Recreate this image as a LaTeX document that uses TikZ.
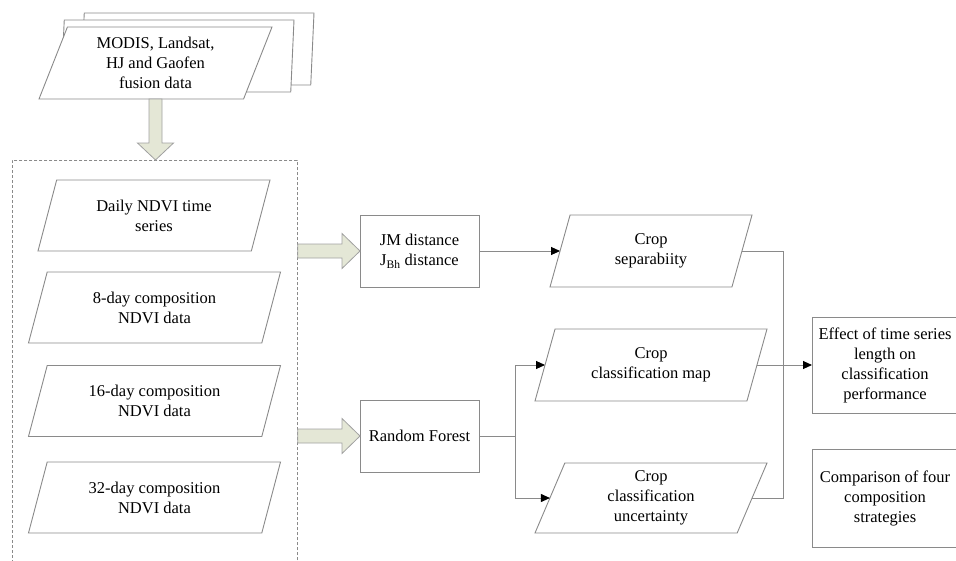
\documentclass[tikz,border=0pt]{standalone}
\usepackage{fontspec}
\setmainfont{Liberation Serif}
\usetikzlibrary{arrows.meta,calc,shapes.geometric}

\definecolor{linegray}{HTML}{8A8A8A}
\definecolor{arrowfill}{HTML}{E4E7D6}

\tikzset{
  txt/.style={align=center, font=\fontsize{16.5}{20}\selectfont},
  databox/.style={txt, trapezium, trapezium left angle=64, trapezium right angle=116,
    trapezium stretches body, minimum width=#1, minimum height=71, outer sep=0pt,
    draw=linegray, line width=0.9pt, fill=white},
  procbox/.style={txt, draw=linegray, line width=0.9pt, minimum width=119, minimum height=72, outer sep=0pt},
  groupbox/.style={draw=linegray, line width=0.8pt, dash pattern=on 3pt off 2pt},
  widearrow/.style={draw=linegray!80, fill=arrowfill, line width=0.8pt},
  link/.style={draw=linegray, line width=0.9pt},
}

% fat arrows: #1 start, #2 tip
\newcommand{\fatright}[2]{\draw[widearrow] ($(#1)+(0,-7)$) -- ($(#2)+(-18,-7)$) -- ($(#2)+(-18,-17.5)$) -- (#2) -- ($(#2)+(-18,17.5)$) -- ($(#2)+(-18,7)$) -- ($(#1)+(0,7)$) -- cycle;}
\newcommand{\fatdown}[2]{\draw[widearrow] ($(#1)+(-6.5,0)$) -- ($(#2)+(-6.5,-17)$) -- ($(#2)+(-18,-17)$) -- (#2) -- ($(#2)+(18,-17)$) -- ($(#2)+(6.5,-17)$) -- ($(#1)+(6.5,0)$) -- cycle;}

\begin{document}
\begin{tikzpicture}[x=1pt,y=-1pt,>={Triangle[length=9pt,width=8pt,color=black]}]
    \useasboundingbox (0,0) rectangle (956,560);

    % stacked input data
    \node[databox=233, minimum height=72] (src3) at (197.5,49) {};
    \node[databox=233, minimum height=72] (src2) at (177.5,56) {};
    \node[databox=233, minimum height=72] (src) at (155.5,63) {MODIS, Landsat,\\HJ and Gaofen\\fusion data};

    % NDVI data sets
    \node[groupbox, minimum width=285, minimum height=410, anchor=north west] (group) at (12,160) {};
    \node[databox=232] (daily) at (154,215.5) {Daily NDVI time\\series};
    \node[databox=252] (d8) at (154.5,307.5) {8-day composition\\NDVI data};
    \node[databox=252] (d16) at (154.5,401) {16-day composition\\NDVI data};
    \node[databox=252] (d32) at (154.5,497.5) {32-day composition\\NDVI data};

    % methods
    \node[procbox] (jm) at (419.5,251) {JM distance\\J\textsubscript{Bh} distance};
    \node[procbox] (rf) at (419.5,436) {Random Forest};

    % results
    \node[databox=202, minimum height=72] (sep) at (651,251) {Crop\\separabiity};
    \node[databox=232, minimum height=72] (map) at (651,365) {Crop\\classification map};
    \node[databox=232, minimum height=70] (unc) at (651,498) {Crop\\classification\\uncertainty};

    % conclusions
    \node[procbox, minimum width=146, minimum height=96] (eff) at (885,365) {Effect of time series\\length on\\classification\\performance};
    \node[procbox, minimum width=146, minimum height=98] (comp) at (885,498) {Comparison of four\\composition\\strategies};

    % fat arrows
    \coordinate (srcout) at (src.center |- src.bottom side);
    \coordinate (groupin) at (src.center |- group.north);
    \fatdown{srcout}{groupin}
    \coordinate (jmin) at (group.east |- jm.west);
    \fatright{jmin}{jm.west}
    \coordinate (rfin) at (group.east |- rf.west);
    \fatright{rfin}{rf.west}

    % connectors
    \draw[link,->] (jm.east) -- (sep.left side);
    \draw[link,->] (rf.east) -- ++(36,0) |- (map.left side);
    \draw[link,->] (rf.east) -- ++(36,0) |- (unc.left side);
    \draw[link] (sep.right side) -- ++(41.5,0) |- (unc.right side);
    \draw[link,->] (map.right side) -- (eff.west);
\end{tikzpicture}
\end{document}
